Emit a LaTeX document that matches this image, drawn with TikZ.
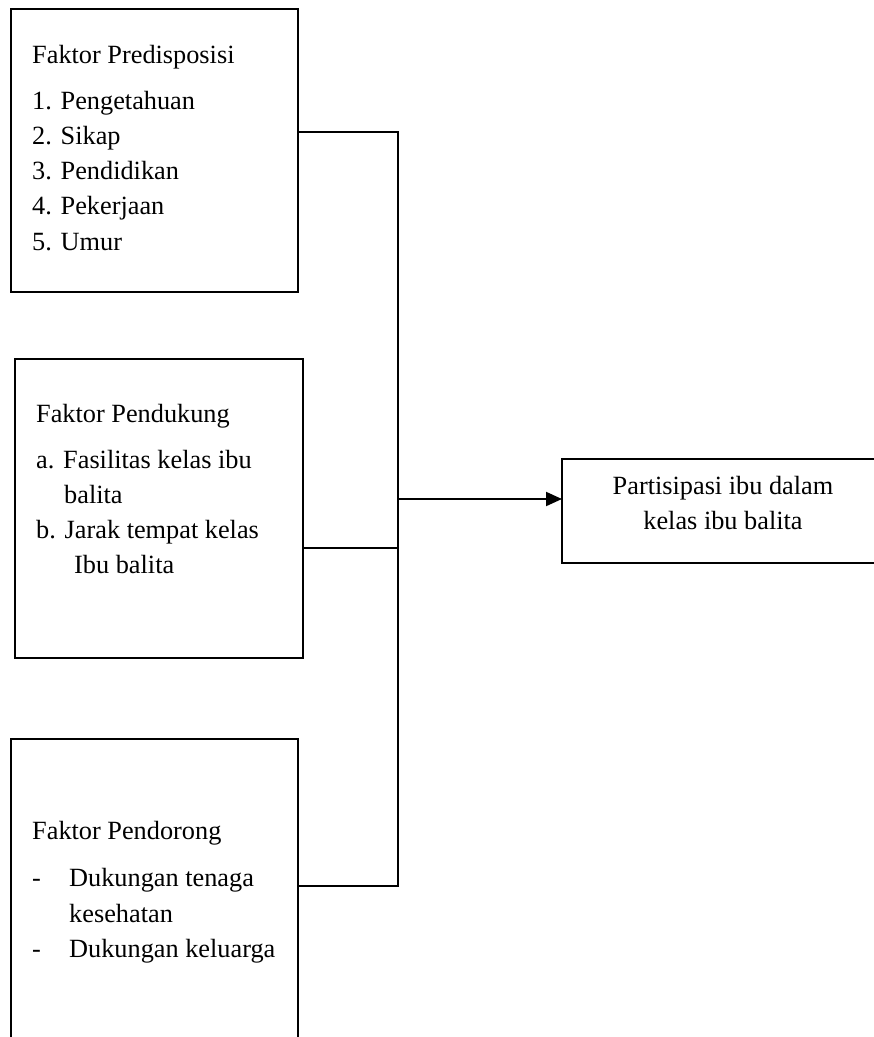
\documentclass[tikz,border=0pt]{standalone}
\usepackage{fontspec}
\setmainfont{Liberation Serif}
\usetikzlibrary{arrows.meta}
\begin{document}
\begin{tikzpicture}[x=1pt,y=-1pt,
  box/.style={draw, line width=2pt, rectangle, inner sep=0pt, outer sep=0pt, anchor=north west},
  txt/.style={anchor=base west, inner sep=0pt, font=\fontsize{26.3}{35}\selectfont},
  ctxt/.style={anchor=base, inner sep=0pt, font=\fontsize{26.3}{35}\selectfont},
  conn/.style={line width=2pt},
  arr/.style={line width=2pt, -{Triangle[length=16pt,width=14pt]}}]
\clip (0,0) rectangle (874,1037);
% boxes
\node[box, minimum width=287pt, minimum height=283pt] (b1) at (11,9) {};
\node[box, minimum width=288pt, minimum height=299pt] (b2) at (15,359) {};
\node[box, minimum width=287pt, minimum height=320pt] (b3) at (11,739) {};
\node[box, minimum width=340pt, minimum height=104pt] (b4) at (562,459) {};
% junction points
\coordinate (j1) at (398,132);
\coordinate (j2) at (398,548);
\coordinate (j3) at (398,886);
\coordinate (jm) at (398,499);
% connectors
\draw[conn] (b1.east |- j1) -- (j1) -- (j3) -- (b3.east |- j3);
\draw[conn] (b2.east |- j2) -- (j2);
\draw[arr] (jm) -- (b4.west |- jm);
% box 1 text
\node[txt] (t1) at (32,63) {Faktor Predisposisi};
\node[txt] (t1a) at (32,109) {1. Pengetahuan};
\node[txt] (t1b) at (32,144.25) {2. Sikap};
\node[txt] (t1c) at (32,179.5) {3. Pendidikan};
\node[txt] (t1d) at (32,214.75) {4. Pekerjaan};
\node[txt] (t1e) at (32,250) {5. Umur};
% box 2 text
\node[txt] (t2) at (36,422) {Faktor Pendukung};
\node[txt] (t2a) at (36,468) {a. Fasilitas kelas ibu};
\node[txt] (t2b) at (64,503) {balita};
\node[txt] (t2c) at (36,538) {b. Jarak tempat kelas};
\node[txt] (t2d) at (74,573) {Ibu balita};
% box 3 text
\node[txt] (t3) at (32,839) {Faktor Pendorong};
\node[txt] (t3d1) at (32,886) {-};
\node[txt] (t3a) at (69,886) {Dukungan tenaga};
\node[txt] (t3b) at (69,922) {kesehatan};
\node[txt] (t3d2) at (32,957) {-};
\node[txt] (t3c) at (69,957) {Dukungan keluarga};
% box 4 text
\node[ctxt] (t4a) at (723,494) {Partisipasi ibu dalam};
\node[ctxt] (t4b) at (723,529) {kelas ibu balita};
\end{tikzpicture}
\end{document}
